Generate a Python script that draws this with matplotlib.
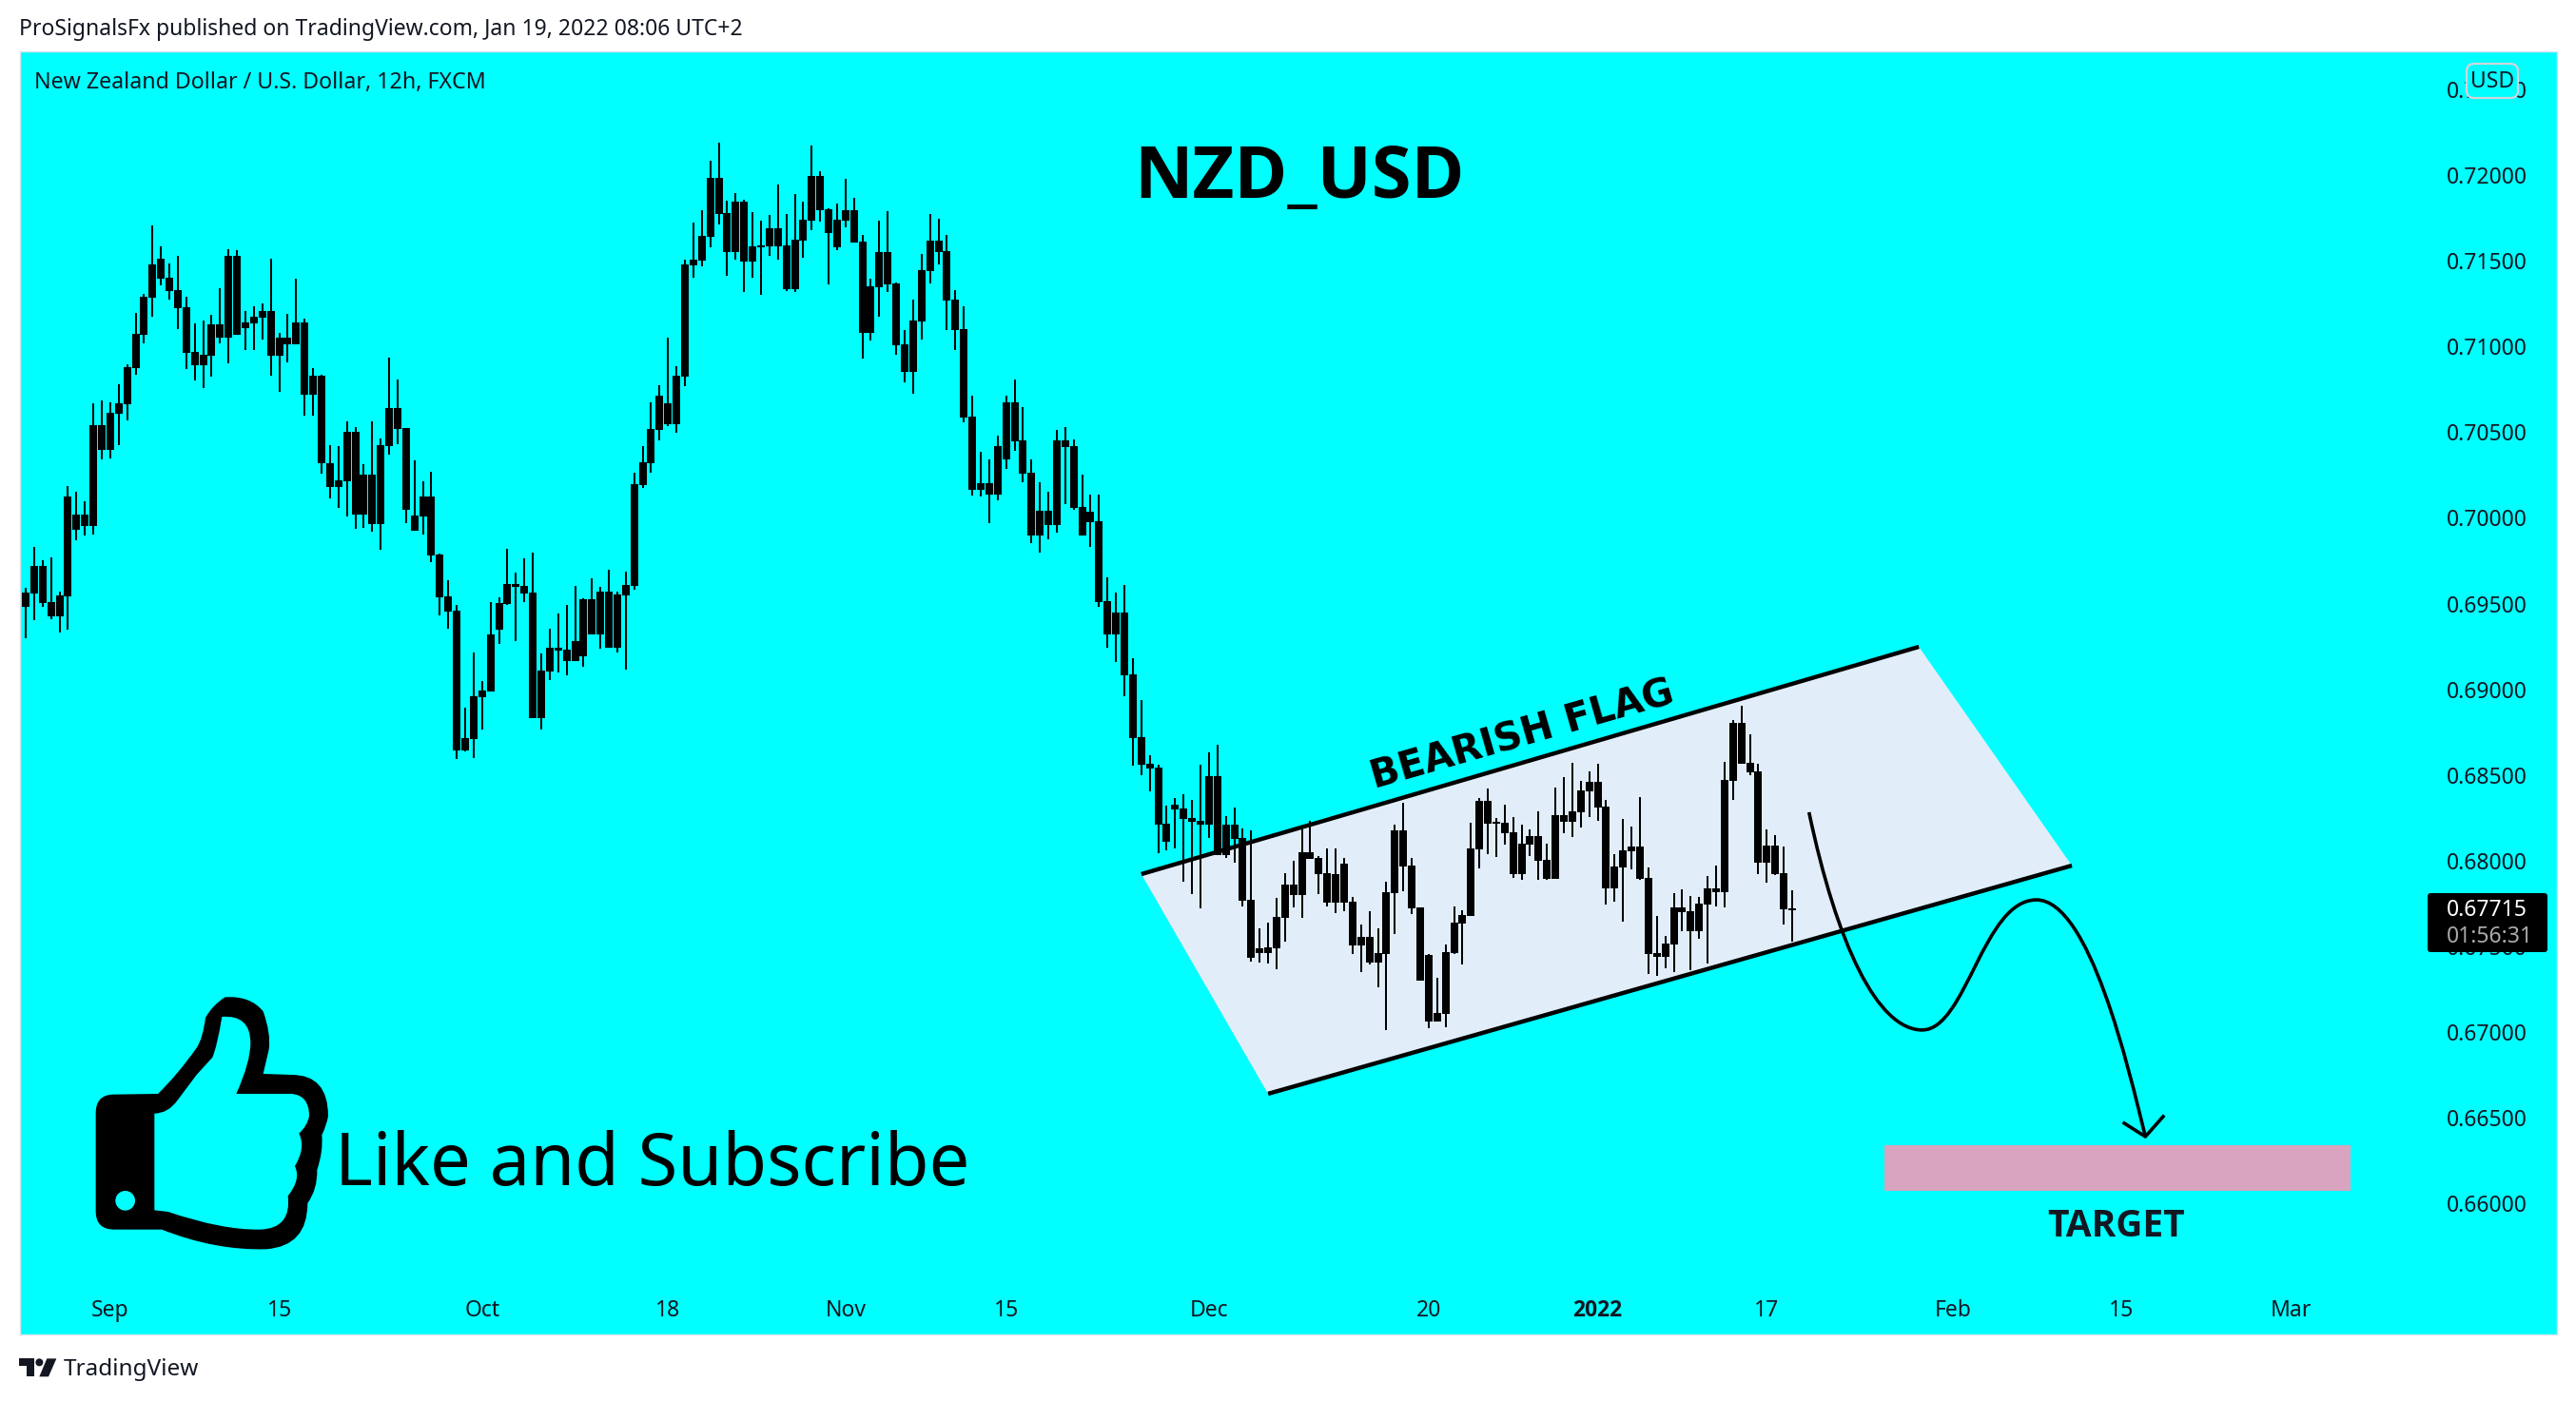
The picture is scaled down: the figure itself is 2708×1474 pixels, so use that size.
import matplotlib as mpl
mpl.use('Agg')
import matplotlib.pyplot as plt
from matplotlib.patches import PathPatch, Polygon, Rectangle, Circle, FancyBboxPatch
from matplotlib.path import Path
from matplotlib.transforms import Affine2D
import numpy as np

plt.rcParams['font.family'] = ['Noto Sans', 'DejaVu Sans']

W, H = 2708, 1474
CYAN = '#00ffff'
INK = '#131722'
BOLD_FONT = 'Open Sans'

# 12h candles, all drawn black, so only the body ends are kept
highs = [
    .69486, .69593, .69831, .69754, .69770, .69570, .70186, .70152, .70097, .70669,
    .70685, .70675, .70780, .70897, .71196, .71307, .71706, .71585, .71484, .71529,
    .71289, .71135, .71151, .71184, .71341, .71567, .71563, .71206, .71234, .71252,
    .71511, .71079, .71190, .71396, .71163, .70873, .70836, .70426, .70420, .70564,
    .70531, .70315, .70564, .70463, .70935, .70808, .70525, .70336, .70214, .70269,
    .69790, .69637, .69492, .68893, .69215, .69048, .69509, .69537, .69820, .69681,
    .69764, .69797, .69209, .69354, .69442, .69492, .69603, .69531, .69648, .69598,
    .69698, .69570, .69687, .70264, .70419, .70674, .70774, .71051, .70885, .71505,
    .71723, .71795, .72084, .72189, .71851, .71895, .71856, .71784, .71734, .71767,
    .71945, .71773, .71889, .71845, .72172, .72023, .71806, .71834, .71978, .71867,
    .71651, .71396, .71734, .71790, .71374, .71096, .71274, .71540, .71773, .71745,
    .71651, .71329, .71235, .70713, .70386, .70342, .70478, .70713, .70807, .70648,
    .70342, .70208, .70153, .70514, .70531, .70459, .70253, .70136, .70136, .69654,
    .69565, .69609, .69183, .68938, .68616, .68560, .68323, .68365, .68386, .68355,
    .68560, .68633, .68677, .68261, .68310, .68189, .68175, .67606, .67639, .67783,
    .67928, .68000, .68183, .68233, .68027, .68072, .68072, .68016, .67789, .67628,
    .67706, .67606, .67878, .68210, .68338, .68016, .67728, .67456, .67317, .67511,
    .67733, .67711, .68222, .68366, .68421, .68249, .68327, .68255, .68210, .68183,
    .68288, .68100, .68427, .68488, .68571, .68466, .68521, .68566, .68355, .68038,
    .68244, .68199, .68371, .67961, .67678, .67561, .67811, .67833, .67794, .67789,
    .67911, .67972, .68577, .68821, .68904, .68738, .68566, .68183, .68149, .68083,
    .67828]
body_tops = [
    .69486, .69566, .69720, .69720, .69510, .69548, .70124, .70019, .70019, .70541,
    .70541, .70614, .70669, .70879, .71074, .71289, .71480, .71511, .71400, .71329,
    .71230, .70968, .70953, .71129, .71129, .71529, .71529, .71141, .71175, .71206,
    .71206, .71052, .71052, .71141, .71141, .70830, .70830, .70319, .70220, .70503,
    .70503, .70253, .70253, .70426, .70642, .70642, .70525, .70013, .70124, .70124,
    .69786, .69542, .69459, .68716, .68960, .68993, .69320, .69503, .69614, .69614,
    .69603, .69564, .69110, .69243, .69243, .69232, .69282, .69526, .69526, .69570,
    .69570, .69553, .69609, .70197, .70325, .70519, .70713, .70668, .70829, .71479,
    .71507, .71645, .71984, .71984, .71778, .71845, .71845, .71584, .71590, .71690,
    .71690, .71590, .71623, .71740, .71995, .71995, .71801, .71740, .71795, .71795,
    .71612, .71351, .71551, .71551, .71368, .71013, .71152, .71446, .71618, .71618,
    .71557, .71274, .71102, .70591, .70203, .70203, .70418, .70675, .70675, .70452,
    .70263, .70042, .70042, .70452, .70452, .70418, .70064, .70036, .69981, .69514,
    .69448, .69448, .69087, .68722, .68567, .68544, .68217, .68329, .68306, .68250,
    .68234, .68495, .68495, .68210, .68210, .68134, .67772, .67489, .67495, .67672,
    .67861, .67861, .68050, .68050, .68016, .67928, .67922, .67983, .67761, .67556,
    .67556, .67462, .67817, .68177, .68177, .67972, .67728, .67450, .67112, .67467,
    .67639, .67683, .68072, .68349, .68349, .68225, .68222, .68166, .68100, .68144,
    .68144, .68005, .68266, .68266, .68288, .68410, .68460, .68460, .68316, .67966,
    .68061, .68083, .68083, .67900, .67462, .67517, .67728, .67728, .67706, .67750,
    .67839, .67839, .68471, .68804, .68804, .68571, .68521, .68088, .68088, .67928,
    .67722]
body_bottoms = [
    .69348, .69482, .69560, .69504, .69427, .69427, .69544, .69930, .69954, .69954,
    .70398, .70398, .70608, .70663, .70873, .71068, .71286, .71396, .71323, .71224,
    .70963, .70891, .70891, .70947, .71052, .71052, .71068, .71107, .71135, .71169,
    .70947, .70947, .71012, .71012, .70719, .70719, .70319, .70180, .70180, .70214,
    .70019, .70019, .69964, .69964, .70420, .70519, .70047, .69926, .70009, .69782,
    .69537, .69453, .68643, .68643, .68710, .68954, .68987, .69348, .69498, .69598,
    .69559, .68832, .68832, .69104, .69226, .69165, .69165, .69193, .69320, .69320,
    .69243, .69243, .69548, .69603, .70191, .70319, .70513, .70546, .70546, .70824,
    .71473, .71501, .71640, .71773, .71551, .71551, .71496, .71496, .71579, .71584,
    .71584, .71335, .71335, .71618, .71734, .71795, .71662, .71579, .71734, .71607,
    .71079, .71079, .71346, .71362, .71007, .70852, .70852, .71146, .71440, .71551,
    .71268, .71096, .70586, .70164, .70164, .70136, .70136, .70342, .70446, .70259,
    .69898, .69898, .69960, .69960, .70414, .70057, .69898, .69975, .69510, .69321,
    .69321, .69083, .68715, .68560, .68539, .68210, .68110, .68299, .68244, .68227,
    .68210, .68210, .68032, .68032, .68127, .67766, .67434, .67462, .67462, .67489,
    .67667, .67800, .67800, .68011, .67922, .67756, .67756, .67756, .67506, .67506,
    .67406, .67406, .67456, .67811, .67966, .67722, .67301, .67062, .67062, .67106,
    .67462, .67633, .67678, .68066, .68216, .68216, .68161, .67922, .67922, .68094,
    .68000, .67894, .67894, .68227, .68227, .68283, .68405, .68310, .67839, .67839,
    .67961, .68055, .67894, .67456, .67439, .67439, .67511, .67700, .67589, .67589,
    .67744, .67817, .67817, .68466, .68566, .68516, .67989, .67989, .67922, .67717,
    .67711]
lows = [
    .69348, .69298, .69403, .69482, .69411, .69334, .69348, .69871, .69899, .69902,
    .70342, .70346, .70426, .70568, .70836, .71018, .71175, .71357, .71274, .71101,
    .70869, .70802, .70758, .70824, .71018, .70901, .71068, .70980, .70980, .71040,
    .70830, .70735, .70907, .71012, .70596, .70596, .70259, .70115, .70059, .70009,
    .69936, .69942, .69920, .69815, .70370, .70430, .69970, .69926, .69902, .69742,
    .69431, .69354, .68594, .68638, .68599, .68766, .68987, .69265, .69492, .69282,
    .69509, .68832, .68766, .69054, .69098, .69082, .69165, .69132, .69320, .69237,
    .69243, .69215, .69115, .69581, .70175, .70264, .70452, .70535, .70497, .70768,
    .71401, .71468, .71579, .71712, .71412, .71507, .71318, .71401, .71301, .71529,
    .71507, .71324, .71318, .71518, .71679, .71729, .71362, .71562, .71695, .71607,
    .70930, .71035, .71174, .71318, .70952, .70791, .70724, .71041, .71368, .71479,
    .71096, .70980, .70558, .70131, .70125, .69970, .70102, .70287, .70391, .70208,
    .69854, .69798, .69875, .69915, .70081, .70047, .69898, .69830, .69482, .69242,
    .69159, .68960, .68554, .68499, .68406, .68045, .68062, .68072, .67879, .67807,
    .67724, .68134, .68032, .68017, .67989, .67735, .67412, .67406, .67400, .67367,
    .67528, .67728, .67667, .68011, .67805, .67733, .67694, .67706, .67456, .67351,
    .67395, .67262, .67012, .67572, .67822, .67689, .67301, .67023, .67062, .67029,
    .67456, .67395, .67678, .67955, .68038, .68022, .68094, .67900, .67889, .68027,
    .67889, .67889, .67894, .68161, .68138, .68194, .68255, .68233, .67744, .67761,
    .67645, .67950, .67889, .67339, .67328, .67373, .67351, .67589, .67362, .67545,
    .67400, .67733, .67728, .68355, .68566, .68499, .67922, .67872, .67916, .67628,
    .67528]

date_bars = [11, 31, 55, 77, 98, 117, 141, 167, 187, 207, 229, 249, 269]
date_labels = ['Sep', '15', 'Oct', '18', 'Nov', '15', 'Dec', '20', '2022', '17', 'Feb', '15', 'Mar']
price_ticks = [.66, .665, .67, .675, .68, .685, .69, .695, .70, .705, .71, .715, .72, .725]

# hand drawn parts of the idea, in bars and price
flag_bars = [133.0, 225.0, 243.1, 148.0]
flag_prices = [.67922, .69248, .67972, .66641]
target_bars = [220.9, 276.1]
target_prices = [.66075, .66341]
move_bars = [212.0, 215.3, 220.1, 225.4, 230.6, 232.6, 238.9, 245.2, 249.8, 251.8]
move_prices = [.68283, .67512, .67013, .67013, .67013, .67772, .67772, .67772, .66791, .66391]
head_bars = [249.3, 251.8, 253.9]
head_prices = [.66469, .66391, .66508]


def fx(x):
    return x / W


def fy(y):
    return 1 - y / H


fig = plt.figure(figsize=(W / 100, H / 100), dpi=100, facecolor='white')
ax = fig.add_axes([fx(20.5), fy(1403), fx(2688 - 20.5), (1403 - 54) / H], facecolor=CYAN)
ax.set_xlim(0.268, 300.5)
ax.set_ylim(.65237, .72721)
for s in ax.spines.values():
    s.set_color('#e0e3eb')
    s.set_linewidth(1)

# flag first, candles go over it
ax.add_patch(Polygon(list(zip(flag_bars, flag_prices)), closed=True, fc='#e1eefa', ec='none', zorder=1))
ax.plot(flag_bars[:2], flag_prices[:2], color='k', lw=3.2, zorder=1.5, solid_capstyle='butt')
ax.plot(flag_bars[3:1:-1], flag_prices[3:1:-1], color='k', lw=3.2, zorder=1.5, solid_capstyle='butt')

bars = np.arange(len(highs))
tops = np.array(body_tops)
bottoms = np.array(body_bottoms)
ax.vlines(bars, lows, highs, colors='k', lw=1.44, antialiased=False, zorder=2)
ax.bar(bars, tops - bottoms, bottom=bottoms, width=0.9, color='k', antialiased=False, zorder=2)

ax.add_patch(Rectangle((target_bars[0], target_prices[0]), target_bars[1] - target_bars[0],
                       target_prices[1] - target_prices[0], fc='#d8a4c0', ec='none', zorder=1.2))
fig.text(fx(2225), fy(1290), 'TARGET', ha='center', va='center', fontsize=28, fontweight='bold',
         family=BOLD_FONT, color=INK)

codes = [Path.MOVETO] + [Path.CURVE4] * 9
ax.add_patch(PathPatch(Path(list(zip(move_bars, move_prices)), codes), fc='none', ec='k', lw=2.6, zorder=3))
ax.plot(head_bars, head_prices, color='k', lw=2.6, zorder=3)

ax.set_xticks(date_bars)
ax.set_xticklabels(date_labels)
ax.set_yticks(price_ticks)
ax.set_yticklabels(['{:.5f}'.format(p) for p in price_ticks])
ax.yaxis.tick_right()
ax.tick_params(axis='x', length=0, pad=-27, labelsize=16.5, labelcolor=INK)
ax.tick_params(axis='y', length=0, pad=-83.5, labelsize=16.5, labelcolor=INK)
ax.get_xticklabels()[8].set_fontweight('bold')
ax.get_xticklabels()[8].set_family(BOLD_FONT)

# texts placed on the page
fig.text(fx(20), fy(31), 'ProSignalsFx published on TradingView.com, Jan 19, 2022 08:06 UTC+2',
         va='center', fontsize=16.5, color=INK)
fig.text(fx(36), fy(87), 'New Zealand Dollar / U.S. Dollar, 12h, FXCM', va='center', fontsize=16.7, color=INK)
fig.text(fx(1366), fy(189), 'NZD_USD', ha='center', va='center', fontsize=54.5, fontweight='bold',
         family=BOLD_FONT, color='k')
fig.text(fx(352), fy(1226), 'Like and Subscribe', va='center', fontsize=54.7, color='k')
fig.text(fx(1600), fy(773), 'BEARISH FLAG', ha='center', va='center', rotation=16, rotation_mode='anchor',
         fontsize=29, fontweight='bold', family='DejaVu Sans', color='k')
fig.text(fx(67), fy(1440), 'TradingView', va='center', fontsize=17.5, color=INK)

# USD badge and last price box
badge = FancyBboxPatch((2597, H - 99), 46, 28, boxstyle='round,pad=4,rounding_size=8', fc=CYAN, ec='#d1d4dc', lw=1.6,
                       transform=None)
fig.add_artist(badge)
fig.text(fx(2620), fy(86), 'USD', ha='center', va='center', fontsize=16.5, color=INK)
box = FancyBboxPatch((2554, H - 999), 122, 58, boxstyle='round,pad=2,rounding_size=3', fc='k', ec='none', transform=None)
fig.add_artist(box)
fig.text(fx(2572), fy(957), '0.67715', va='center', fontsize=16.5, color='white')
fig.text(fx(2572), fy(985), '01:56:31', va='center', fontsize=16.5, color='#aaaaaa')

# thumb icon, outline read in a 3x grid with its origin at page (80, 1020)
icon = Affine2D().scale(1 / 3, -1 / 3).translate(80, H - 1020)
outer = Path([(120, 392), (258, 390), (320, 330), (380, 245), (400, 215), (408, 150), (430, 110), (470, 85),
              (550, 80), (590, 130), (615, 200), (608, 250), (590, 327), (680, 330), (795, 330), (795, 460),
              (790, 490), (775, 520), (780, 570), (760, 630), (762, 690), (730, 735), (730, 870), (600, 880),
              (440, 885), (270, 818), (120, 818), (62, 818), (62, 760), (62, 450), (62, 392), (120, 392)],
             [Path.MOVETO, Path.LINETO] + [Path.CURVE3] * 10 + [Path.LINETO, Path.LINETO] + [Path.CURVE3] * 12
             + [Path.LINETO, Path.CURVE3, Path.CURVE3, Path.LINETO, Path.CURVE3, Path.CURVE3])
inner = Path([(247, 452), (290, 452), (320, 410), (380, 330), (430, 275), (445, 240), (460, 147), (550, 140), (550, 230),
              (550, 290), (505, 390), (680, 390), (735, 395), (735, 460), (730, 490), (703, 515), (725, 560), (690, 618),
              (710, 660), (668, 712), (680, 815), (580, 818), (460, 820), (290, 762), (247, 757), (247, 452)],
             [Path.MOVETO, Path.CURVE3, Path.CURVE3, Path.LINETO, Path.LINETO] + [Path.CURVE3] * 6 + [Path.LINETO]
             + [Path.CURVE3] * 12 + [Path.LINETO, Path.LINETO])
fig.add_artist(PathPatch(outer, fc='k', ec='none', transform=icon))
fig.add_artist(PathPatch(inner, fc=CYAN, ec='none', transform=icon))
fig.add_artist(Circle((155, 727), 31, fc=CYAN, ec='none', transform=icon))

# TradingView logo
logo = Affine2D().scale(1 / 3, -1 / 3).translate(0, H - 1340)
fig.add_artist(Polygon([(60, 265), (108, 265), (108, 322), (84, 322), (84, 289), (60, 289)], fc=INK, ec='none', transform=logo))
fig.add_artist(Circle((124, 277), 12, fc=INK, ec='none', transform=logo))
fig.add_artist(Polygon([(148, 265), (178, 265), (153, 322), (124, 322)], fc=INK, ec='none', transform=logo))

fig.savefig('out.png', dpi=100, facecolor='white')
